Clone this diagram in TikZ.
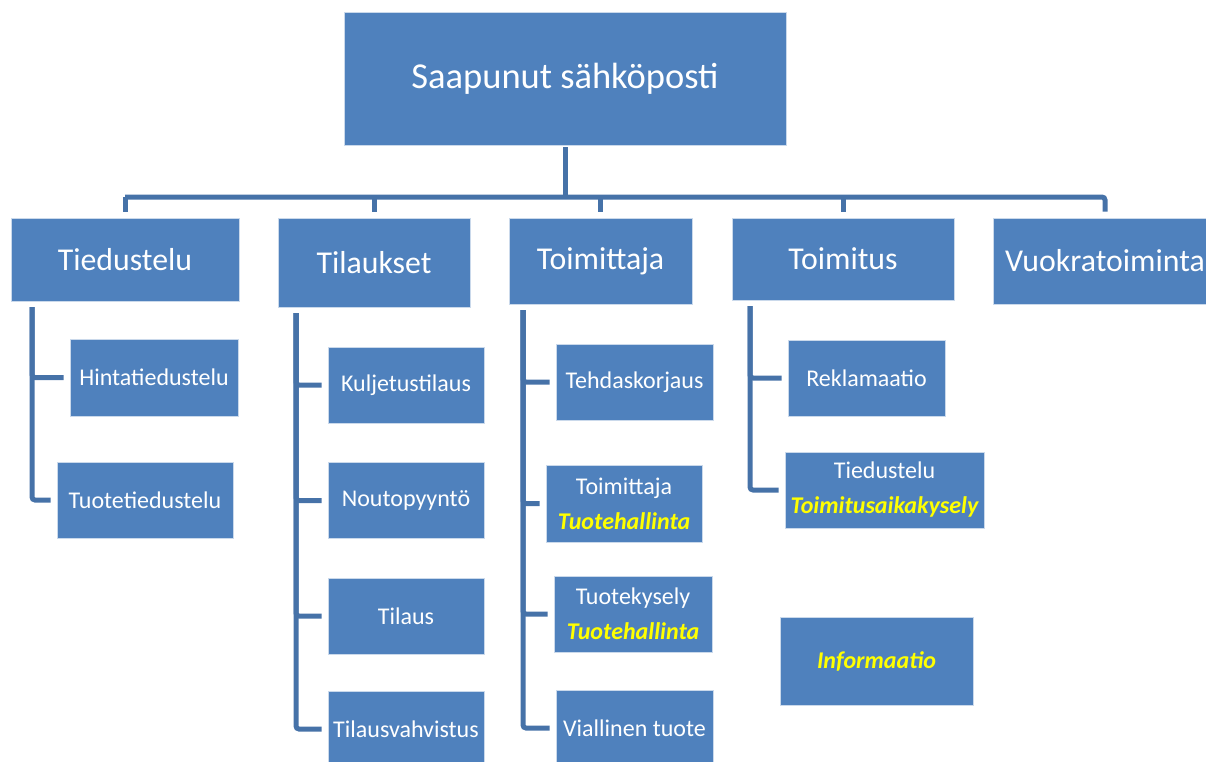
\documentclass[tikz,border=0pt]{standalone}
\usepackage{fontspec}
\setmainfont{Carlito}
\definecolor{boxblue}{HTML}{4F81BD}
\definecolor{lineblue}{HTML}{4672A8}
\definecolor{hlyellow}{HTML}{FFFF00}
\tikzset{
  box/.style={fill=boxblue, draw=white!70!boxblue, line width=0.6pt, text=white, align=center, inner sep=0pt},
  topbox/.style={box, font=\fontsize{36.5}{40}\selectfont},
  midbox/.style={box, font=\fontsize{31.8}{36}\selectfont},
  leafbox/.style={box, font=\fontsize{24}{35}\selectfont},
  conn/.style={draw=lineblue, line width=5pt, rounded corners=3pt}
}
\newcommand{\yel}[1]{\textcolor{hlyellow}{\bfseries\itshape #1}}
\begin{document}
\begin{tikzpicture}[x=1pt,y=-1pt]
\useasboundingbox (0,0) rectangle (1206,762);
\clip (0,0) rectangle (1206,762);
% top
\node[topbox, minimum width=442pt, minimum height=133pt] (top) at (565,78.5) {Saapunut sähköposti};
% second level
\node[midbox, minimum width=228pt, minimum height=83pt] (tied) at (125,259.5) {Tiedustelu};
\node[midbox, minimum width=192pt, minimum height=89pt] (tila) at (374,262.5) {Tilaukset};
\node[midbox, minimum width=183pt, minimum height=86pt] (toim) at (600.5,261) {Toimittaja};
\node[midbox, minimum width=222pt, minimum height=82pt] (tmit) at (843,259) {Toimitus};
\node[midbox, minimum width=224pt, minimum height=86pt] (vuok) at (1105,261) {Vuokratoiminta};
% leaves: Tiedustelu
\node[leafbox, minimum width=168pt, minimum height=77pt] (hint) at (154,377.5) {Hintatiedustelu};
\node[leafbox, minimum width=176pt, minimum height=76pt] (tuot) at (145,500) {Tuotetiedustelu};
% leaves: Tilaukset
\node[leafbox, minimum width=156pt, minimum height=76pt] (kulj) at (406,385) {Kuljetustilaus};
\node[leafbox, minimum width=156pt, minimum height=76pt] (nout) at (406,500.5) {Noutopyyntö};
\node[leafbox, minimum width=156pt, minimum height=76pt] (tilaus) at (406,616) {Tilaus};
\node[leafbox, minimum width=156pt, minimum height=76pt] (tvah) at (406,729) {Tilausvahvistus};
% leaves: Toimittaja
\node[leafbox, minimum width=157pt, minimum height=76pt] (tehd) at (634.5,382) {Tehdaskorjaus};
\node[leafbox, minimum width=156pt, minimum height=77pt] (toimb) at (624,503.5) {Toimittaja\\\yel{Tuotehallinta}};
\node[leafbox, minimum width=158pt, minimum height=76pt] (tkys) at (633,614) {Tuotekysely\\\yel{Tuotehallinta}};
\node[leafbox, minimum width=157pt, minimum height=76pt] (vial) at (634.5,728) {Viallinen tuote};
% leaves: Toimitus
\node[leafbox, minimum width=157pt, minimum height=76pt] (rekl) at (866.5,378) {Reklamaatio};
\node[leafbox, minimum width=199pt, minimum height=76pt] (tiedb) at (884.5,490) {Tiedustelu\\\yel{Toimitusaikakysely}};
\node[leafbox, minimum width=193pt, minimum height=88pt] (info) at (876.5,661) {\yel{Informaatio}};
% top connectors
\coordinate (bus) at (0,197);
\draw[conn, shorten <=2pt] (top.south) -- (top.south |- bus);
\draw[conn, shorten >=6pt] (tied.north |- bus) -- (vuok.north |- bus) -- (vuok.north);
\draw[conn, shorten >=6pt] (tied.north |- bus) -- (tied.north);
\draw[conn, shorten >=6pt] (tila.north |- bus) -- (tila.north);
\draw[conn, shorten >=6pt] (toim.north |- bus) -- (toim.north);
\draw[conn, shorten >=6pt] (tmit.north |- bus) -- (tmit.north);
% column spines
\coordinate (s1) at (32,301);
\coordinate (s2) at (296,307);
\coordinate (s3) at (523,304);
\coordinate (s4) at (750,300);
\draw[conn, shorten <=6pt, shorten >=6pt] (s1) |- (hint.west);
\draw[conn, shorten <=6pt, shorten >=6pt] (s1) |- (tuot.west);
\draw[conn, shorten <=6pt, shorten >=6pt] (s2) |- (kulj.west);
\draw[conn, shorten <=6pt, shorten >=6pt] (s2) |- (nout.west);
\draw[conn, shorten <=6pt, shorten >=6pt] (s2) |- (tilaus.west);
\draw[conn, shorten <=6pt, shorten >=6pt] (s2) |- (tvah.west);
\draw[conn, shorten <=6pt, shorten >=6pt] (s3) |- (tehd.west);
\draw[conn, shorten <=6pt, shorten >=6pt] (s3) |- (toimb.west);
\draw[conn, shorten <=6pt, shorten >=6pt] (s3) |- (tkys.west);
\draw[conn, shorten <=6pt, shorten >=6pt] (s3) |- (vial.west);
\draw[conn, shorten <=6pt, shorten >=6pt] (s4) |- (rekl.west);
\draw[conn, shorten <=6pt, shorten >=6pt] (s4) |- (tiedb.west);
\end{tikzpicture}
\end{document}
